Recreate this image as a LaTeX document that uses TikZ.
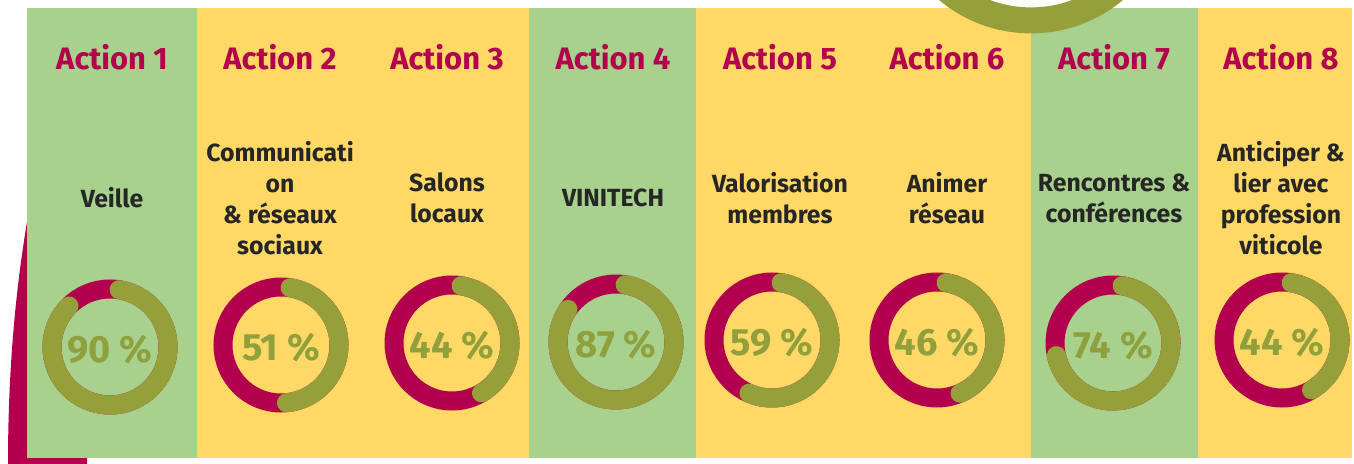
\documentclass[tikz,border=0pt]{standalone}
\usepackage{fontspec}
\setmainfont{Fira Sans}
\usepackage{tikz}
\definecolor{bggreen}{HTML}{A8D18D}
\definecolor{bgyellow}{HTML}{FFD866}
\definecolor{wine}{HTML}{B3004E}
\definecolor{olivering}{HTML}{96A03A}
\definecolor{pcttxt}{HTML}{8FA03C}
\definecolor{ink}{HTML}{262626}
\begin{document}
\begin{tikzpicture}[x=0.5pt,y=0.5pt,
  head/.style={text=wine,font=\fontsize{15.5}{18}\selectfont\bfseries,anchor=base},
  desc/.style={text=ink,align=center,font=\fontsize{12.4}{15.5}\selectfont\bfseries},
  pct/.style={text=pcttxt,font=\fontsize{19}{22}\selectfont\bfseries},
  ringbg/.style={draw=wine,line width=9.5pt},
  ringfg/.style={draw=olivering,line width=9.5pt,line cap=round}]
\useasboundingbox (0,0) rectangle (1354,-464);
\begin{scope}
\clip (0,0) rectangle (1354,-464);
% big circles behind
\fill[wine] (27,-222) .. controls (14,-300) and (8,-380) .. (8,-464) -- (87,-464) -- (87,-222) -- cycle;
\fill[bggreen] (27,-8) rectangle (197,-458);
\fill[bgyellow] (197,-8) rectangle (529,-458);
\fill[bggreen] (529,-8) rectangle (696,-458);
\fill[bgyellow] (696,-8) rectangle (1031,-458);
\fill[bggreen] (1031,-8) rectangle (1198,-458);
\fill[bgyellow] (1198,-8) rectangle (1352,-458);
\draw[olivering,line width=13pt] (1031,110) circle (130.4);
\end{scope}

\node[head] (a1) at (112,-70) {Action 1};
\node[head] (a2) at (280,-70) {Action 2};
\node[head] (a3) at (447,-70) {Action 3};
\node[head] (a4) at (613,-70) {Action 4};
\node[head] (a5) at (780,-70) {Action 5};
\node[head] (a6) at (947,-70) {Action 6};
\node[head] (a7) at (1114,-70) {Action 7};
\node[head] (a8) at (1281,-70) {Action 8};

\node[desc] (t1) at (112,-198) {Veille};
\node[desc] (t2) at (280,-198) {Communicati\\on\\\& réseaux\\sociaux};
\node[desc] (t3) at (447,-198) {Salons\\locaux};
\node[desc] (t4) at (613,-198) {VINITECH};
\node[desc] (t5) at (780,-198) {Valorisation\\membres};
\node[desc] (t6) at (947,-198) {Animer\\réseau};
\node[desc] (t7) at (1114,-198) {Rencontres \&\\conférences};
\node[desc] (t8) at (1281,-198) {Anticiper \&\\lier avec\\profession\\viticole};

\coordinate (r1) at (110,-347);
\coordinate (r2) at (281,-345);
\coordinate (r3) at (452,-343);
\coordinate (r4) at (616,-342);
\coordinate (r5) at (772,-340);
\coordinate (r6) at (937,-340);
\coordinate (r7) at (1113,-343);
\coordinate (r8) at (1282,-340);

\draw[ringbg] (r1) circle (58);
\draw[ringfg] (r1) ++(81:58) arc (81:-225:58);
\node[pct] (p1) at ([yshift=-1.5pt]r1) {90 \%};
\draw[ringbg] (r2) circle (58);
\draw[ringfg] (r2) ++(81:58) arc (81:-84.6:58);
\node[pct] (p2) at ([yshift=-1.5pt]r2) {51 \%};
\draw[ringbg] (r3) circle (58);
\draw[ringfg] (r3) ++(81:58) arc (81:-59.4:58);
\node[pct] (p3) at ([yshift=-1.5pt]r3) {44 \%};
\draw[ringbg] (r4) circle (58);
\draw[ringfg] (r4) ++(81:58) arc (81:-214.2:58);
\node[pct] (p4) at ([yshift=-1.5pt]r4) {87 \%};
\draw[ringbg] (r5) circle (58);
\draw[ringfg] (r5) ++(81:58) arc (81:-113.4:58);
\node[pct] (p5) at ([yshift=-1.5pt]r5) {59 \%};
\draw[ringbg] (r6) circle (58);
\draw[ringfg] (r6) ++(81:58) arc (81:-66.6:58);
\node[pct] (p6) at ([yshift=-1.5pt]r6) {46 \%};
\draw[ringbg] (r7) circle (58);
\draw[ringfg] (r7) ++(81:58) arc (81:-167.4:58);
\node[pct] (p7) at ([yshift=-1.5pt]r7) {74 \%};
\draw[ringbg] (r8) circle (58);
\draw[ringfg] (r8) ++(81:58) arc (81:-59.4:58);
\node[pct] (p8) at ([yshift=-1.5pt]r8) {44 \%};
\end{tikzpicture}
\end{document}
